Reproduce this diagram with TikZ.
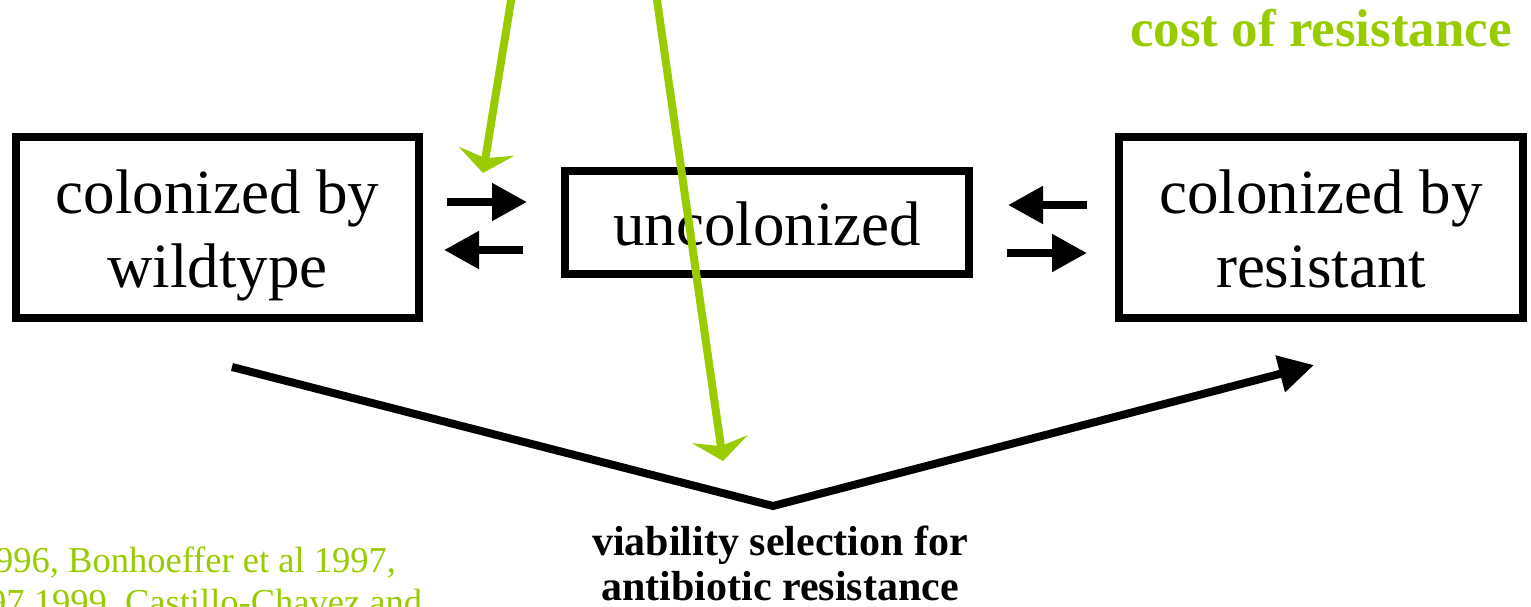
\documentclass[tikz,border=0pt]{standalone}
\usepackage{fontspec}
\setmainfont{Liberation Serif}
\usetikzlibrary{arrows.meta}
\definecolor{lime}{RGB}{153,204,0}
\begin{document}
\begin{tikzpicture}[x=1pt,y=-1pt,
  statebox/.style={draw=black, line width=8pt, fill=white, inner sep=0pt},
  boxtext/.style={anchor=base, inner sep=0pt, font=\fontsize{63}{74}\selectfont},
  flow/.style={line width=8pt, -{Triangle[length=35pt,width=36pt]}},
  costarrow/.style={draw=lime, line width=8pt, -{Stealth[length=22pt,width=56pt,inset=7pt]}},
  sellabel/.style={anchor=base, inner sep=0pt, font=\bfseries\fontsize{42}{45}\selectfont},
  costlabel/.style={anchor=base east, inner sep=0pt, text=lime, font=\bfseries\fontsize{53}{60}\selectfont},
  reftext/.style={anchor=base west, inner sep=0pt, text=lime, font=\fontsize{36.5}{42}\selectfont}]
\useasboundingbox (0,0) rectangle (1531,606);
\clip (0,0) rectangle (1531,606);

% the three colonization states
\node[statebox, minimum width=403pt, minimum height=181pt] (wt) at (217.5,227.5) {};
\node[statebox, minimum width=404pt, minimum height=103pt] (unc) at (767,222.5) {};
\node[statebox, minimum width=404pt, minimum height=181pt] (res) at (1321,227.5) {};

\node[boxtext] (wt1) at (217.5,213) {colonized by};
\node[boxtext] (wt2) at (217.5,287) {wildtype};
\node[boxtext] (unc1) at (767,245) {uncolonized};
\node[boxtext] (res1) at (1321,213) {colonized by};
\node[boxtext] (res2) at (1321,287) {resistant};

% transitions between the states
\coordinate (wa1) at (447,202);  \coordinate (wb1) at (527,202);
\coordinate (wa2) at (523,250);  \coordinate (wb2) at (444,250);
\coordinate (ra1) at (1087,205); \coordinate (rb1) at (1008,205);
\coordinate (ra2) at (1007,253); \coordinate (rb2) at (1087,253);
\draw[flow] (wa1) -- (wb1);
\draw[flow] (wa2) -- (wb2);
\draw[flow] (ra1) -- (rb1);
\draw[flow] (ra2) -- (rb2);

% selection from wildtype to resistant
\coordinate (sel0) at (232,367);
\coordinate (selv) at (773,506);
\coordinate (sel1) at (1314,365);
\draw[line width=8pt, -{Triangle[length=35pt,width=36pt]}] (sel0) -- (selv) -- (sel1);

\node[sellabel] (sel1txt) at (780,555) {viability selection for};
\node[sellabel] (sel2txt) at (780,600) {antibiotic resistance};

% cost of resistance
\node[costlabel] (cost) at (1512,46) {cost of resistance};
\coordinate (c1a) at (516,-30); \coordinate (c1b) at (483,173);
\coordinate (c2a) at (652.7,-30); \coordinate (c2b) at (723,461);
\draw[costarrow] (c1a) -- (c1b);
\draw[costarrow] (c2a) -- (c2b);

% references
\node[reftext] (ref1) at (-5,572) {996, Bonhoeffer et al 1997,};
\node[reftext] (ref2) at (-12,614) {97 1999, Castillo-Chavez and};
\end{tikzpicture}
\end{document}
